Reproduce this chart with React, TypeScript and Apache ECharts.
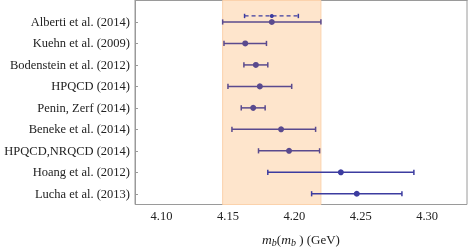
import React, { useEffect, useRef } from "react";
import * as echarts from "echarts";

const names = [
  "Alberti et al. (2014)",
  "Kuehn et al. (2009)",
  "Bodenstein et al. (2012)",
  "HPQCD (2014)",
  "Penin, Zerf (2014)",
  "Beneke et al. (2014)",
  "HPQCD,NRQCD (2014)",
  "Hoang et al. (2012)",
  "Lucha et al. (2013)",
];
const centers = [4.183, 4.163, 4.171, 4.174, 4.169, 4.19, 4.196, 4.235, 4.247];
const lows = [4.146, 4.147, 4.162, 4.15, 4.16, 4.153, 4.173, 4.18, 4.213];
const highs = [4.22, 4.179, 4.18, 4.198, 4.178, 4.216, 4.219, 4.29, 4.281];
// dashed secondary Alberti estimate
const dashedCenter = [4.183];
const dashedLow = [4.1625];
const dashedHigh = [4.203];
const band = [4.146, 4.22];

const PURPLE = "#5a4a8e";
const BLUE = "#3c3ca0";

function rows(from: number, to: number) {
  const out: number[][] = [];
  for (let i = from; i < to; i++) out.push([lows[i], centers[i], highs[i], i + 1]);
  return out;
}

function makeRender(color: string, dashed: boolean, yOffset: number) {
  return (params: any, api: any) => {
    const lo = api.value(0);
    const c = api.value(1);
    const hi = api.value(2);
    const row = api.value(3) + yOffset;
    const pL = api.coord([lo, row]);
    const pC = api.coord([c, row]);
    const pH = api.coord([hi, row]);
    const cap = dashed ? 2.2 : 2.6;
    const lineStyle = {
      stroke: color,
      lineWidth: dashed ? 1.3 : 1.5,
      lineDash: dashed ? [4, 3] : null,
    };
    const capStyle = { stroke: color, lineWidth: 1.5 };
    return {
      type: "group",
      children: [
        { type: "line", shape: { x1: pL[0], y1: pL[1], x2: pH[0], y2: pH[1] }, style: lineStyle },
        { type: "line", shape: { x1: pL[0], y1: pL[1] - cap, x2: pL[0], y2: pL[1] + cap }, style: capStyle },
        { type: "line", shape: { x1: pH[0], y1: pH[1] - cap, x2: pH[0], y2: pH[1] + cap }, style: capStyle },
        { type: "circle", shape: { cx: pC[0], cy: pC[1], r: dashed ? 2 : 3 }, style: { fill: color } },
      ],
    };
  };
}

export default function App() {
  const ref = useRef<HTMLDivElement>(null);
  useEffect(() => {
    if (!ref.current) return;
    const chart = echarts.init(ref.current, null, { renderer: "svg" });
    const font = "'Liberation Serif', 'DejaVu Serif', serif";
    chart.setOption({
      animation: false,
      grid: {
        left: 135,
        right: 2,
        top: 0.5,
        bottom: 43.5,
        outerBoundsMode: "none",
        containLabel: false,
        show: true,
        borderColor: "#9a9a9a",
        borderWidth: 1,
        backgroundColor: "transparent",
      },
      xAxis: {
        type: "value",
        min: 4.08,
        max: 4.33,
        splitNumber: 5,
        axisLine: { lineStyle: { color: "#9a9a9a", width: 1 } },
        axisTick: { inside: true, length: 4, lineStyle: { color: "#9a9a9a" } },
        minorTick: { show: true, splitNumber: 5, length: 2, lineStyle: { color: "#9a9a9a" } },
        splitLine: { show: false },
        axisLabel: {
          showMinLabel: false,
          showMaxLabel: false,
          margin: 5,
          fontFamily: font,
          fontSize: 12.5,
          color: "#222",
          formatter: (v: number) => v.toFixed(2),
        },
        name: "{i|m}{s|b}{n|(}{i|m}{s|b}{n| ) (GeV)}",
        nameLocation: "middle",
        nameGap: 27,
        nameTextStyle: {
          fontFamily: font,
          fontSize: 13,
          color: "#222",
          rich: {
            i: { fontFamily: font, fontSize: 13.5, fontStyle: "italic", color: "#222" },
            s: { fontFamily: font, fontSize: 10, fontStyle: "italic", color: "#222", padding: [6, 0, 0, 0] },
            n: { fontFamily: font, fontSize: 13, color: "#222" },
          },
        },
      },
      yAxis: {
        type: "value",
        inverse: true,
        min: 0,
        max: 9.5,
        interval: 1,
        axisLine: { lineStyle: { color: "#9a9a9a", width: 1 } },
        axisTick: { inside: true, length: 3, lineStyle: { color: "#9a9a9a" } },
        splitLine: { show: false },
        axisLabel: {
          margin: 5,
          fontFamily: font,
          fontSize: 12.5,
          color: "#222",
          formatter: (v: number) => {
            const i = Math.round(v);
            return Math.abs(v - i) < 1e-6 && i >= 1 && i <= names.length ? names[i - 1] : "";
          },
        },
      },
      series: [
        {
          type: "custom",
          silent: true,
          data: [],
          renderItem: () => null,
          z: 1,
          markArea: {
            silent: true,
            itemStyle: { color: "#fee5cc", borderColor: "#fbd2ac", borderWidth: 1 },
            data: [[{ xAxis: band[0] }, { xAxis: band[1] }]],
          },
        },
        {
          type: "custom",
          z: 3,
          data: [[dashedLow[0], dashedCenter[0], dashedHigh[0], 1]],
          renderItem: makeRender(BLUE, true, -0.28),
        },
        {
          type: "custom",
          z: 3,
          data: rows(0, 7),
          renderItem: makeRender(PURPLE, false, 0),
        },
        {
          type: "custom",
          z: 3,
          data: rows(7, 9),
          renderItem: makeRender(BLUE, false, 0),
        },
      ],
    });
    return () => chart.dispose();
  }, []);
  return <div ref={ref} style={{ position: "fixed", left: 0, top: 0, width: 469, height: 248 }} />;
}
